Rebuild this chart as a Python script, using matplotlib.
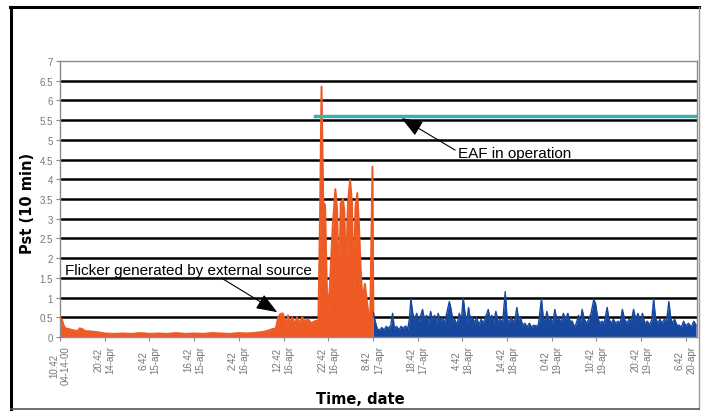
import numpy as np
import matplotlib
matplotlib.use("Agg")
import matplotlib.pyplot as plt
from matplotlib.lines import Line2D

plt.rcParams['font.family'] = ['Liberation Sans', 'DejaVu Sans']

# hours after 04-14-00 10:42, Pst values
orange_hours = [0.0, 0.4, 0.8, 1.2, 2.0, 3.0, 4.0, 4.4, 5.0, 5.6, 7.0, 8.5, 10, 12, 14, 16,
                18, 20, 22, 24, 26, 28, 30, 32, 34, 36, 38, 40, 42, 44, 45.5, 46.5, 47.5,
                48.3, 48.8, 49.3, 49.8, 50.3, 50.7, 51.0, 51.5, 52.0, 52.5, 53.0, 53.5,
                54.2, 54.8, 55.5, 56.2, 57.0, 57.8, 58.2, 58.5, 58.9, 59.3, 59.7, 60.1,
                60.5, 61.0, 61.6, 62.0, 62.4, 62.8, 63.3, 63.6, 64.0, 64.4, 64.9, 65.3,
                65.7, 66.1, 66.5, 66.9, 67.3, 67.7, 68.2, 68.6, 69.0, 69.4, 69.9, 70.1]
orange_pst = [0.46, 0.45, 0.3, 0.22, 0.2, 0.17, 0.15, 0.22, 0.2, 0.15, 0.14, 0.12, 0.09,
              0.08, 0.09, 0.08, 0.1, 0.08, 0.09, 0.08, 0.1, 0.08, 0.09, 0.08, 0.1, 0.09,
              0.08, 0.1, 0.09, 0.11, 0.13, 0.16, 0.2, 0.22, 0.5, 0.58, 0.6, 0.45, 0.3,
              0.55, 0.35, 0.5, 0.3, 0.5, 0.35, 0.5, 0.4, 0.45, 0.35, 0.4, 0.42, 3.3, 6.35,
              3.4, 3.35, 1.2, 0.7, 1.6, 2.8, 3.75, 3.2, 1.0, 3.4, 3.5, 3.2, 1.5, 3.4, 3.98,
              3.4, 1.2, 3.3, 3.65, 2.8, 1.6, 0.9, 1.35, 0.95, 0.6, 0.5, 4.32, 0.6]

blue_hours = [70.1, 70.5, 71.0, 71.5, 72.0, 72.5, 73.0, 73.5, 74.0, 74.4, 74.8, 75.3, 75.8,
              76.3, 76.8, 77.3, 77.8, 78.2, 78.5, 78.9, 79.3, 79.8, 80.2, 80.7, 81.1, 81.5,
              82.0, 82.5, 82.9, 83.3, 83.8, 84.2, 84.6, 85.1, 85.5, 86.0, 86.5, 87.1, 87.5,
              87.9, 88.3, 88.8, 89.3, 89.8, 90.2, 90.6, 91.0, 91.4, 91.8, 92.3, 92.8, 93.2,
              93.7, 94.2, 94.7, 95.2, 95.8, 96.2, 96.6, 97.0, 97.5, 98.0, 98.5, 99.0, 99.6,
              100.0, 100.4, 100.9, 101.4, 101.8, 102.2, 102.6, 103.0, 103.5, 104.0, 104.5,
              105.0, 105.5, 106.0, 106.5, 107.0, 107.7, 108.1, 108.5, 108.9, 109.3, 109.7,
              110.2, 110.7, 111.1, 111.6, 112.1, 112.6, 113.1, 113.6, 114.1, 114.6, 115.0,
              115.5, 116.0, 116.4, 116.8, 117.3, 117.8, 118.3, 118.8, 119.4, 119.8, 120.2,
              120.7, 121.2, 121.7, 122.4, 122.8, 123.3, 123.8, 124.3, 124.8, 125.3, 125.8,
              126.3, 126.8, 127.3, 127.8, 128.3, 128.8, 129.3, 129.8, 130.3, 130.8, 131.4,
              131.9, 132.4, 132.8, 133.2, 133.7, 134.2, 134.7, 135.2, 135.7, 136.2, 136.6,
              137.0, 137.5, 138.0, 138.5, 139.0, 139.5, 140.0, 140.6, 141.2, 141.8, 142.3]
blue_pst = [0.62, 0.4, 0.2, 0.18, 0.24, 0.18, 0.27, 0.22, 0.3, 0.6, 0.22, 0.27, 0.18, 0.27,
            0.22, 0.28, 0.2, 0.5, 0.97, 0.6, 0.45, 0.6, 0.4, 0.55, 0.7, 0.45, 0.55, 0.35, 0.65,
            0.45, 0.55, 0.35, 0.6, 0.4, 0.5, 0.35, 0.6, 0.9, 0.7, 0.4, 0.45, 0.3, 0.6, 0.45,
            1.0, 0.6, 0.4, 0.75, 0.45, 0.5, 0.35, 0.5, 0.3, 0.45, 0.35, 0.5, 0.7, 0.45, 0.55,
            0.35, 0.65, 0.4, 0.45, 0.35, 1.15, 0.5, 0.35, 0.5, 0.4, 0.45, 0.75, 0.45, 0.5, 0.3,
            0.35, 0.25, 0.35, 0.25, 0.3, 0.28, 0.3, 0.97, 0.5, 0.35, 0.65, 0.45, 0.5, 0.35, 0.7,
            0.45, 0.5, 0.35, 0.6, 0.45, 0.6, 0.4, 0.4, 0.25, 0.35, 0.55, 0.35, 0.7, 0.45, 0.35,
            0.45, 0.6, 0.95, 0.85, 0.55, 0.35, 0.4, 0.35, 0.75, 0.45, 0.35, 0.45, 0.35, 0.4, 0.35,
            0.7, 0.45, 0.35, 0.45, 0.4, 0.7, 0.45, 0.6, 0.4, 0.6, 0.35, 0.4, 0.3, 0.45, 0.97,
            0.5, 0.35, 0.45, 0.35, 0.45, 0.4, 0.9, 0.5, 0.35, 0.45, 0.3, 0.3, 0.25, 0.4, 0.28,
            0.35, 0.25, 0.4, 0.3]

# EAF in operation level
eaf_start = 57.0
eaf_level = 5.6

tick_hours = [0, 10, 20, 30, 40, 50, 60, 70, 80, 90, 100, 110, 120, 130, 140]
tick_labels = ["10:42\n04-14-00", "20:42\n14-apr", "6:42\n15-apr", "16:42\n15-apr",
               "2:42\n16-apr", "12:42\n16-apr", "22:42\n16-apr", "8:42\n17-apr",
               "18:42\n17-apr", "4:42\n18-apr", "14:42\n18-apr", "0:42\n19-apr",
               "10:42\n19-apr", "20:42\n19-apr", "6:42\n20-apr"]
x_end = 142.5

orange = '#EE5A24'
blue = '#17479E'
teal = '#3AB0B5'
gray = '#8a8a8a'

fig = plt.figure(figsize=(7.09, 4.14), dpi=100)
ax = fig.add_axes([60 / 709, 76 / 414, 637 / 709, 276 / 414])

# horizontal black grid lines
for y in np.arange(0.5, 7.0, 0.5):
    ax.axhline(y, color='black', lw=1.8, zorder=1)

ax.fill_between(orange_hours, orange_pst, color=orange, lw=0, zorder=2)
ax.plot(orange_hours, orange_pst, color=orange, lw=1.4, zorder=3)
ax.fill_between(blue_hours, blue_pst, color=blue, lw=0, zorder=2)
ax.plot(blue_hours, blue_pst, color=blue, lw=1.0, zorder=3)

ax.plot([eaf_start, x_end], [eaf_level, eaf_level], color=teal, lw=2.5, zorder=4)

ax.set_xlim(0, x_end)
ax.set_ylim(0, 7)
ax.set_yticks(np.arange(0, 7.5, 0.5))
ax.set_yticklabels(['0', '0.5', '1', '1.5', '2', '2.5', '3', '3.5', '4', '4.5', '5',
                    '5.5', '6', '6.5', '7'])
ax.set_xticks(tick_hours)
ax.set_xticklabels(tick_labels, rotation=90, linespacing=1.25)
ax.tick_params(axis='y', labelsize=7, colors=gray, labelcolor='#777777', length=3, pad=2)
ax.tick_params(axis='x', labelsize=7, colors=gray, labelcolor='#777777', length=3, pad=3)
for s in ax.spines.values():
    s.set_color(gray)
    s.set_linewidth(1.0)

fig.text(28 / 709, 1 - 203 / 414, 'Pst (10 min)', rotation=90, fontsize=10.5,
         fontweight='bold', family='DejaVu Sans', ha='center', va='center')
fig.text(360 / 709, 1 - 400 / 414, 'Time, date', fontsize=10.5, fontweight='bold',
         family='DejaVu Sans', ha='center', va='center')

ax.text(1.1, 1.53, 'Flicker generated by external source', fontsize=11, ha='left',
        va='bottom', zorder=5)
ax.annotate('', xy=(48.6, 0.63), xytext=(36.2, 1.49), zorder=5,
            arrowprops=dict(arrowstyle='-|>,head_length=1.3,head_width=0.5',
                            color='black', lw=0.8, shrinkA=0, shrinkB=0))
ax.text(89.0, 4.66, 'EAF in operation', fontsize=11, ha='left', va='center', zorder=5)
ax.annotate('', xy=(76.4, 5.55), xytext=(88.4, 4.74), zorder=5,
            arrowprops=dict(arrowstyle='-|>,head_length=1.3,head_width=0.5',
                            color='black', lw=0.8, shrinkA=0, shrinkB=0))

# outer frame of the picture
fig.add_artist(Line2D([11 / 709, 11 / 709], [4 / 414, 406 / 414], color='black', lw=2.2))
fig.add_artist(Line2D([10 / 709, 699 / 709], [406 / 414, 406 / 414], color='black', lw=2.2))
fig.add_artist(Line2D([699 / 709, 699 / 709], [4 / 414, 406 / 414], color='#999999', lw=1.0))
fig.add_artist(Line2D([11 / 709, 699 / 709], [4 / 414, 4 / 414], color='#555555', lw=1.2))

fig.savefig('out.png', dpi=100)
